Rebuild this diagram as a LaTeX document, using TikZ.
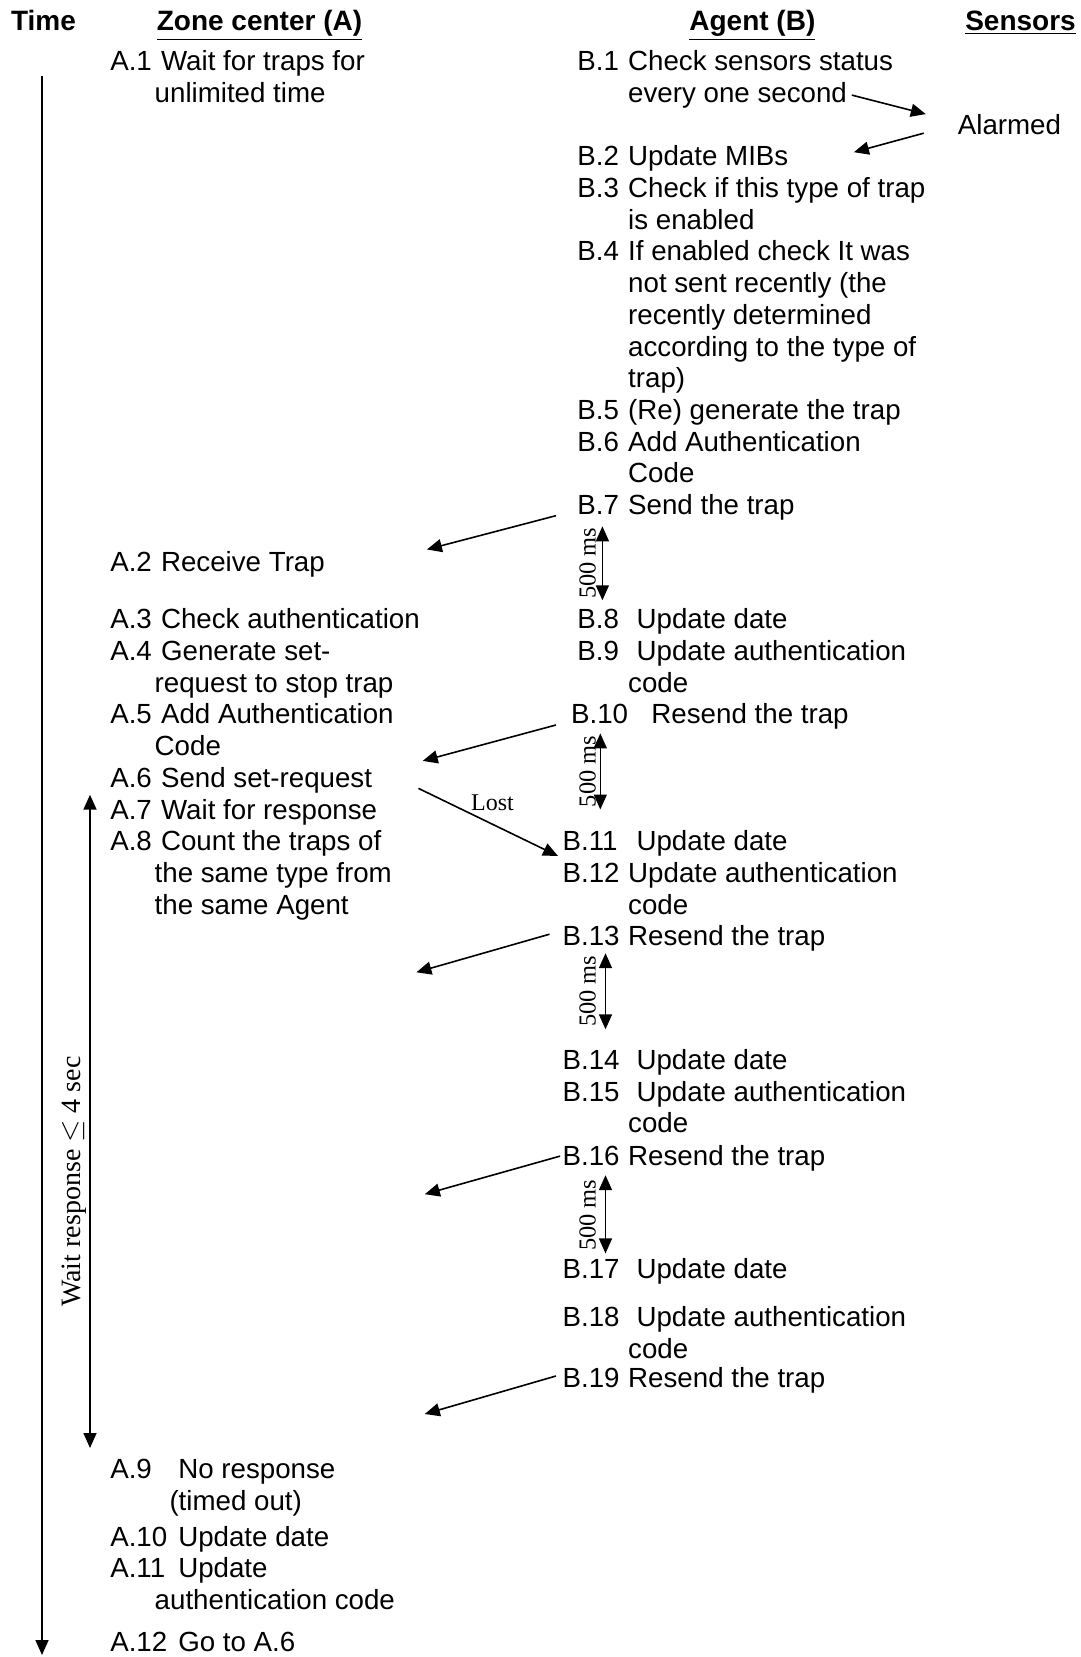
\documentclass[tikz,border=0pt]{standalone}
\usepackage{fontspec}
\setmainfont{Liberation Sans}
\newfontfamily\timesfont{Liberation Serif}
\usepackage{tikz}
\usetikzlibrary{arrows.meta}

\newcommand{\lbl}[2]{\makebox[#1][l]{#2}}

\begin{document}
\begin{tikzpicture}[x=0.5pt, y=-0.5pt,
  every node/.style={inner sep=0pt, font=\fontsize{13.85}{15.85}\selectfont},
  txt/.style={anchor=base west, align=left},
  extra/.style={yshift={-#1*15.85pt}},
  head/.style={anchor=base west, font=\fontsize{14}{15.85}\selectfont\bfseries},
  msg/.style={-{Triangle[length=7.5pt,width=6.5pt]}, line width=0.8pt},
  span/.style={{Triangle[length=7.5pt,width=6.5pt]}-{Triangle[length=7.5pt,width=6.5pt]}, line width=0.8pt},
  ms/.style={rotate=90, font=\timesfont\fontsize{12.2}{14}\selectfont}]
\useasboundingbox (0,0) rectangle (1080,1657);

% column heads
\node[head] (hTime) at (10.6,30.6) {Time};
\node[head] (hZone) at (156.4,30.6) {\underline{Zone center (A)}};
\node[head] (hAgent) at (689,30.6) {\underline{Agent (B)}};
\node[head] (hSens) at (964.9,30.6) {\underline{Sensors}};

% zone center steps
\node[txt, extra=1] (a1) at (109.9,70.8) {\lbl{25.4pt}{A.1}Wait for traps for\\\hspace*{22.2pt}unlimited time};
\node[txt] (a2) at (109.9,571.7) {\lbl{25.4pt}{A.2}Receive Trap};
\node[txt] (a3) at (109.9,628.8) {\lbl{25.4pt}{A.3}Check authentication};
\node[txt, extra=1] (a4) at (109.9,660.5) {\lbl{25.4pt}{A.4}Generate set-\\\hspace*{22.2pt}request to stop trap};
\node[txt, extra=1] (a5) at (109.9,723.9) {\lbl{25.4pt}{A.5}Add Authentication\\\hspace*{22.2pt}Code};
\node[txt] (a6) at (109.9,787.3) {\lbl{25.4pt}{A.6}Send set-request};
\node[txt] (a7) at (109.9,819.0) {\lbl{25.4pt}{A.7}Wait for response};
\node[txt, extra=2] (a8) at (109.9,850.7) {\lbl{25.4pt}{A.8}Count the traps of\\\hspace*{22.2pt}the same type from\\\hspace*{22.2pt}the same Agent};
\node[txt, extra=1] (a9) at (109.9,1478.5) {\lbl{34pt}{A.9}No response\\\hspace*{29.6pt}(timed out)};
\node[txt] (a10) at (109.9,1546.1) {\lbl{34pt}{A.10}Update date};
\node[txt, extra=1] (a11) at (109.9,1577.8) {\lbl{34pt}{A.11}Update\\\hspace*{22.2pt}authentication code};
\node[txt] (a12) at (109.9,1651.8) {\lbl{34pt}{A.12}Go to A.6};

% agent steps
\node[txt, extra=1] (b1) at (577,70.8) {\lbl{25.4pt}{B.1}Check sensors status\\\hspace*{25.4pt}every one second};
\node[txt] (al) at (957.5,134.2) {Alarmed};
\node[txt] (b2) at (577,165.9) {\lbl{25.4pt}{B.2}Update MIBs};
\node[txt, extra=1] (b3) at (577,197.6) {\lbl{25.4pt}{B.3}Check if this type of trap\\\hspace*{25.4pt}is enabled};
\node[txt, extra=4] (b4) at (577,261.0) {\lbl{25.4pt}{B.4}If enabled check It was\\\hspace*{25.4pt}not sent recently (the\\\hspace*{25.4pt}recently determined\\\hspace*{25.4pt}according to the type of\\\hspace*{25.4pt}trap)};
\node[txt] (b5) at (577,419.5) {\lbl{25.4pt}{B.5}(Re) generate the trap};
\node[txt, extra=1] (b6) at (577,451.3) {\lbl{25.4pt}{B.6}Add Authentication\\\hspace*{25.4pt}Code};
\node[txt] (b7) at (577,514.7) {\lbl{25.4pt}{B.7}Send the trap};
\node[txt] (b8) at (577,628.8) {\lbl{29.6pt}{B.8}Update date};
\node[txt, extra=1] (b9) at (577,660.5) {\lbl{29.6pt}{B.9}Update authentication\\\hspace*{25.4pt}code};
\node[txt] (b10) at (570.7,723.9) {\lbl{40.2pt}{B.10}Resend the trap};
\node[txt] (b11) at (562.2,850.7) {\lbl{37pt}{B.11}Update date};
\node[txt, extra=1] (b12) at (562.2,882.4) {\lbl{32.8pt}{B.12}Update authentication\\\hspace*{32.8pt}code};
\node[txt] (b13) at (562.2,945.8) {\lbl{32.8pt}{B.13}Resend the trap};
\node[txt] (b14) at (562.2,1069.5) {\lbl{37pt}{B.14}Update date};
\node[txt, extra=1] (b15) at (562.2,1101.2) {\lbl{37pt}{B.15}Update authentication\\\hspace*{32.8pt}code};
\node[txt] (b16) at (562.2,1165.7) {\lbl{32.8pt}{B.16}Resend the trap};
\node[txt] (b17) at (562.2,1278.7) {\lbl{37pt}{B.17}Update date};
\node[txt, extra=1] (b18) at (562.2,1326.3) {\lbl{37pt}{B.18}Update authentication\\\hspace*{32.8pt}code};
\node[txt] (b19) at (562.2,1387.6) {\lbl{32.8pt}{B.19}Resend the trap};

% arrow ends
\coordinate (s1a) at (851.8,95.1);  \coordinate (s1b) at (925.8,114.1);
\coordinate (s2a) at (923.7,133.2); \coordinate (s2b) at (853.9,152.2);
\coordinate (t7a) at (555.9,515.7); \coordinate (t7b) at (426.9,549.5);
\coordinate (t10a) at (555.9,725.0); \coordinate (t10b) at (422.7,760.9);
\coordinate (la) at (418.5,788.4); \coordinate (lb) at (558,856);
\coordinate (t13a) at (549.5,934.2); \coordinate (t13b) at (416.4,972.3);
\coordinate (t16a) at (560.1,1156.1); \coordinate (t16b) at (424.8,1194.2);
\coordinate (t19a) at (555.9,1376); \coordinate (t19b) at (424.8,1414);
\coordinate (m1a) at (602.4,526.3); \coordinate (m1b) at (602.4,600.3);
\coordinate (m2a) at (600.3,733.4); \coordinate (m2b) at (600.3,809.5);
\coordinate (m3a) at (605.5,953.2); \coordinate (m3b) at (605.5,1029.3);
\coordinate (m4a) at (605.5,1175.2); \coordinate (m4b) at (605.5,1253.4);
\coordinate (time0) at (42,76); \coordinate (time1) at (42,1655);
\coordinate (w0) at (90,794.7); \coordinate (w1) at (90,1448);

\draw[msg] (s1a) -- (s1b);
\draw[msg] (s2a) -- (s2b);
\draw[msg] (t7a) -- (t7b);
\draw[msg] (t10a) -- (t10b);
\draw[msg] (la) -- (lb);
\draw[msg] (t13a) -- (t13b);
\draw[msg] (t16a) -- (t16b);
\draw[msg] (t19a) -- (t19b);
\node[font=\timesfont\fontsize{12}{14}\selectfont] (lost) at (492.5,803.2) {Lost};

\draw[span] (m1a) -- (m1b); \node[ms] (ms1) at (587.6,563.3) {500 ms};
\draw[span] (m2a) -- (m2b); \node[ms] (ms2) at (587.6,771.5) {500 ms};
\draw[span] (m3a) -- (m3b); \node[ms] (ms3) at (587.6,991.3) {500 ms};
\draw[span] (m4a) -- (m4b); \node[ms] (ms4) at (587.6,1215.3) {500 ms};

% time axis and timeout window
\draw[msg] (time0) -- (time1);
\draw[span] (w0) -- (w1);
\node[rotate=90, font=\timesfont\fontsize{14}{16}\selectfont] (wr) at (74,1181.5) {Wait response $\leq$ 4 sec};
\end{tikzpicture}
\end{document}
